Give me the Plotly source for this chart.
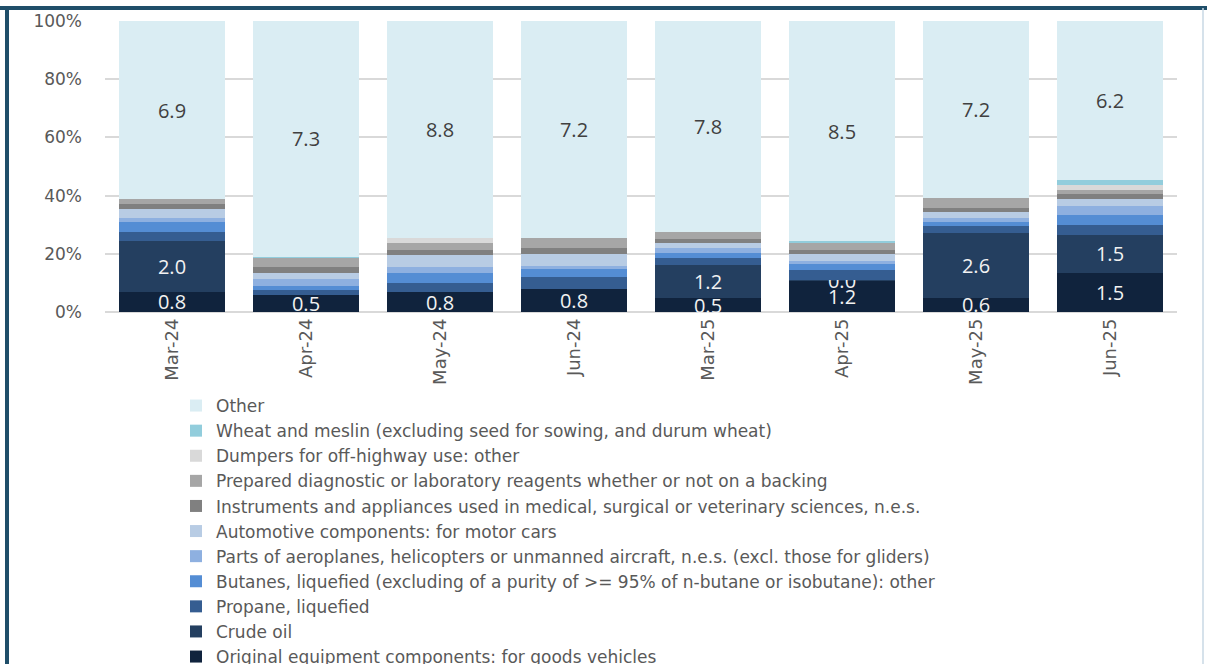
import plotly.graph_objects as go

months = ["Mar-24", "Apr-24", "May-24", "Jun-24", "Mar-25", "Apr-25", "May-25", "Jun-25"]

# values (absolute, £bn-like) per product, bottom of stack first
orig_equipment = [0.78, 0.54, 0.81, 0.77, 0.50, 1.22, 0.58, 1.53]
crude_oil      = [1.97, 0.00, 0.00, 0.00, 1.25, 0.02, 2.64, 1.46]
propane        = [0.35, 0.15, 0.38, 0.38, 0.26, 0.38, 0.27, 0.39]
butanes        = [0.38, 0.13, 0.40, 0.26, 0.18, 0.25, 0.15, 0.39]
aero_parts     = [0.16, 0.21, 0.24, 0.12, 0.19, 0.11, 0.17, 0.35]
automotive     = [0.33, 0.19, 0.49, 0.41, 0.17, 0.25, 0.24, 0.26]
instruments    = [0.19, 0.17, 0.18, 0.19, 0.16, 0.17, 0.19, 0.20]
reagents       = [0.19, 0.29, 0.31, 0.32, 0.26, 0.28, 0.37, 0.18]
dumpers        = [0.00, 0.00, 0.18, 0.00, 0.00, 0.00, 0.00, 0.18]
wheat          = [0.00, 0.04, 0.00, 0.00, 0.00, 0.04, 0.00, 0.18]
other          = [6.9, 7.3, 8.8, 7.2, 7.8, 8.5, 7.2, 6.2]

# which series carry value labels
crude_labelled = [True, False, False, False, True, True, True, True]

series = [
    ("Original equipment components: for goods vehicles", orig_equipment, "#10233d", "all"),
    ("Crude oil", crude_oil, "#243f60", "crude"),
    ("Propane, liquefied", propane, "#355d91", None),
    ("Butanes, liquefied (excluding of a purity of >= 95% of n-butane or isobutane): other", butanes, "#548dd4", None),
    ("Parts of aeroplanes, helicopters or unmanned aircraft, n.e.s. (excl. those for gliders)", aero_parts, "#8eb0e0", None),
    ("Automotive components: for motor cars", automotive, "#b8cce4", None),
    ("Instruments and appliances used in medical, surgical or veterinary sciences, n.e.s.", instruments, "#808080", None),
    ("Prepared diagnostic or laboratory reagents whether or not on a backing", reagents, "#a6a6a6", None),
    ("Dumpers for off-highway use: other", dumpers, "#d9d9d9", None),
    ("Wheat and meslin (excluding seed for sowing, and durum wheat)", wheat, "#92cddc", None),
    ("Other", other, "#daedf3", "other"),
]

LBL_FONT = "Open Sans, sans-serif"
AX_FONT = "DejaVu Sans, sans-serif"

fig = go.Figure()
for name, vals, color, lab in series:
    if lab == "all":
        text = [f"{v:.1f}" for v in vals]
        tcol = "#f2f2f2"
    elif lab == "crude":
        text = [f"{v:.1f}" if ok else "" for v, ok in zip(vals, crude_labelled)]
        tcol = "#f2f2f2"
    elif lab == "other":
        text = [f"{v:.1f}" for v in vals]
        tcol = "#404040"
    else:
        text = None
        tcol = "#404040"
    fig.add_trace(go.Bar(
        x=months, y=vals, name=name,
        marker=dict(color=color, line=dict(width=0)),
        text=text, textposition="inside" if text else "none",
        insidetextanchor="middle", textangle=0,
        textfont=dict(size=20, color=tcol, family=LBL_FONT),
        cliponaxis=False,
    ))

W, H = 1207, 664
ml, mr, mt, mb = 105, 30, 21, 352
pw, ph = W - ml - mr, H - mt - mb

def px(x):
    return (x - ml) / pw

def py(y):
    return (H - mb - y) / ph

fig.update_layout(
    width=W, height=H,
    barmode="stack", barnorm="percent", bargap=0.21,
    margin=dict(l=ml, r=mr, t=mt, b=mb, autoexpand=False),
    plot_bgcolor="white", paper_bgcolor="white",
    font=dict(family=AX_FONT, color="#595959"),
    uniformtext=dict(minsize=20, mode="show"),
    showlegend=True,
    legend=dict(
        orientation="v", traceorder="reversed",
        x=px(176), xanchor="left", y=py(388), yanchor="top",
        font=dict(size=17, color="#595959", family=AX_FONT),
        bgcolor="rgba(0,0,0,0)", maxheight=1000,
    ),
    xaxis=dict(
        tickangle=-90, tickfont=dict(size=18, color="#595959"),
        showgrid=False, showline=False, ticks="", automargin=False,
        ticklabelstandoff=2,
    ),
    yaxis=dict(
        range=[0, 100], dtick=20, ticksuffix="%",
        tickfont=dict(size=17, color="#595959"),
        showgrid=True, gridcolor="#d9d9d9", gridwidth=1.5,
        zeroline=True, zerolinecolor="#d9d9d9", zerolinewidth=1.5,
        showline=False, ticks="", ticklabelstandoff=22, automargin=False,
    ),
    shapes=[
        dict(type="line", xref="paper", yref="paper", x0=px(0), x1=px(W), y0=py(8), y1=py(8),
             line=dict(color="#1f4e69", width=4)),
        dict(type="line", xref="paper", yref="paper", x0=px(7), x1=px(7), y0=py(8), y1=py(H + 5),
             line=dict(color="#1f4e69", width=4)),
        dict(type="line", xref="paper", yref="paper", x0=px(1203), x1=px(1203), y0=py(8), y1=py(H + 5),
             line=dict(color="#c9d9e5", width=1.5)),
    ],
)

fig.write_html(
    "out.html",
    config={"displayModeBar": False},
    post_script="document.body.style.margin='0';document.body.style.overflow='hidden';",
)
